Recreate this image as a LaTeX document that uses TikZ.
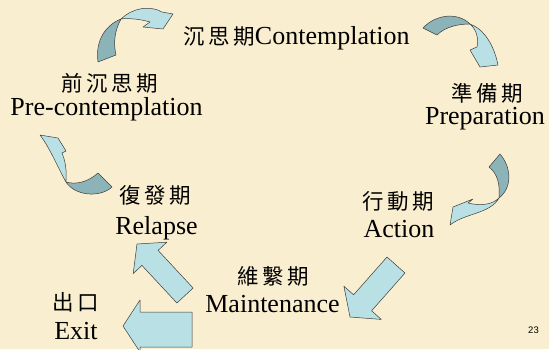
\documentclass[tikz,border=0pt]{standalone}
\usepackage{fontspec}
\setmainfont{Liberation Serif}
\newfontfamily\cjk{Noto Sans CJK TC}
\newfontfamily\numfont{Liberation Sans}
\newcommand{\zk}{\kern3.5pt}
\definecolor{bg}{RGB}{250,238,208}
\definecolor{lightc}{RGB}{185,224,228}
\definecolor{darkc}{RGB}{140,179,183}
\definecolor{edge}{RGB}{60,60,60}
\tikzset{
  en/.style={inner sep=0pt, anchor=base, font=\fontsize{26}{30}\selectfont},
  zh/.style={inner sep=0pt, anchor=base, font=\cjk\fontsize{21.5}{24}\selectfont},
  lightpart/.style={fill=lightc, draw=edge, line width=0.5pt, line join=round},
  darkpart/.style={fill=darkc, draw=edge, line width=0.5pt, line join=round},
}
\begin{document}
\begin{tikzpicture}[x=1pt,y=-1pt]
\useasboundingbox (0,0) rectangle (549,349);
\clip (0,0) rectangle (549,349);
\fill[bg] (0,0) rectangle (549,349);

% stage labels
\node[en] (con) at (296.5,44.5) {{\cjk\fontsize{21.5}{24}\selectfont 沉\zk 思\zk 期}Contemplation};
\node[zh] (preZh) at (110,91) {前\zk 沉\zk 思\zk 期};
\node[en] (preEn) at (106.5,115) {Pre-contemplation};
\node[zh] (prepZh) at (487.5,101) {準\zk 備\zk 期};
\node[en] (prepEn) at (485,124.5) {Preparation};
\node[zh] (actZh) at (398.5,209) {行\zk 動\zk 期};
\node[en] (actEn) at (399,237) {Action};
\node[zh] (relZh) at (155.5,203) {復\zk 發\zk 期};
\node[en] (relEn) at (156.5,234) {Relapse};
\node[zh] (mainZh) at (273,284) {維\zk 繫\zk 期};
\node[en] (mainEn) at (272.5,312.5) {Maintenance};
\node[zh] (exitZh) at (75.5,310) {出\zk 口};
\node[en] (exitEn) at (76,339) {Exit};
\node[inner sep=0pt, anchor=base, font=\numfont\fontsize{9.5}{11}\selectfont] (pg) at (533.5,333.3) {23};

% curved arrow: Pre-contemplation -> Contemplation
\path[darkpart] (98,62) .. controls (95,40) and (106,25) .. (121,19)
  .. controls (115,30) and (113,42) .. (116,55) -- cycle;
\path[lightpart] (121,19) .. controls (132,8) and (150,5) .. (162,12) -- (173,14) -- (163,29)
  -- (143,27) -- (150,22) .. controls (140,19) and (128,18) .. (121,19) -- cycle;

% curved arrow: Contemplation -> Preparation
\path[darkpart] (423,28) .. controls (436,14) and (458,12) .. (470,24)
  .. controls (460,24) and (446,26) .. (437,35) -- cycle;
\path[lightpart] (470,24) .. controls (484,29) and (494,45) .. (498,65) -- (480,67) -- (470,50)
  -- (477,47) .. controls (479,38) and (476,29) .. (470,24) -- cycle;

% curved arrow: Preparation -> Action
\path[darkpart] (500,154) .. controls (512,168) and (512,188) .. (499,198)
  .. controls (500,185) and (498,174) .. (489,167) -- cycle;
\path[lightpart] (499,198) .. controls (492,205) and (480,206) .. (468,203) -- (473,199)
  -- (453,207) -- (450,225) .. controls (465,213) and (490,214) .. (499,198) -- cycle;

% curved arrow: Relapse -> Pre-contemplation
\path[darkpart] (66,182) .. controls (75,196) and (100,198) .. (112,187) -- (98,173)
  .. controls (88,182) and (76,185) .. (66,182) -- cycle;
\path[lightpart] (66,182) .. controls (67,170) and (65,160) .. (62,153) -- (66,151) -- (58,138)
  -- (40,135) .. controls (50,148) and (58,168) .. (66,182) -- cycle;

% block arrow: Action -> Maintenance
\path[lightpart] (387,257) -- (405,273) -- (371.6,310.8) -- (381.3,319.4) -- (350,317)
  -- (343.9,286.2) -- (353.6,294.8) -- cycle;

% block arrow: Maintenance -> Relapse
\path[lightpart] (193.1,288) -- (158.1,250.4) -- (166.8,242.2) -- (137,244) -- (133.2,273.6)
  -- (141.9,265.4) -- (176.9,303) -- cycle;

% block arrow: Maintenance -> Exit
\path[lightpart] (192,312) -- (140,312) -- (140,300) -- (123,326) -- (140,352) -- (140,347)
  -- (192,347) -- cycle;
\end{tikzpicture}
\end{document}
